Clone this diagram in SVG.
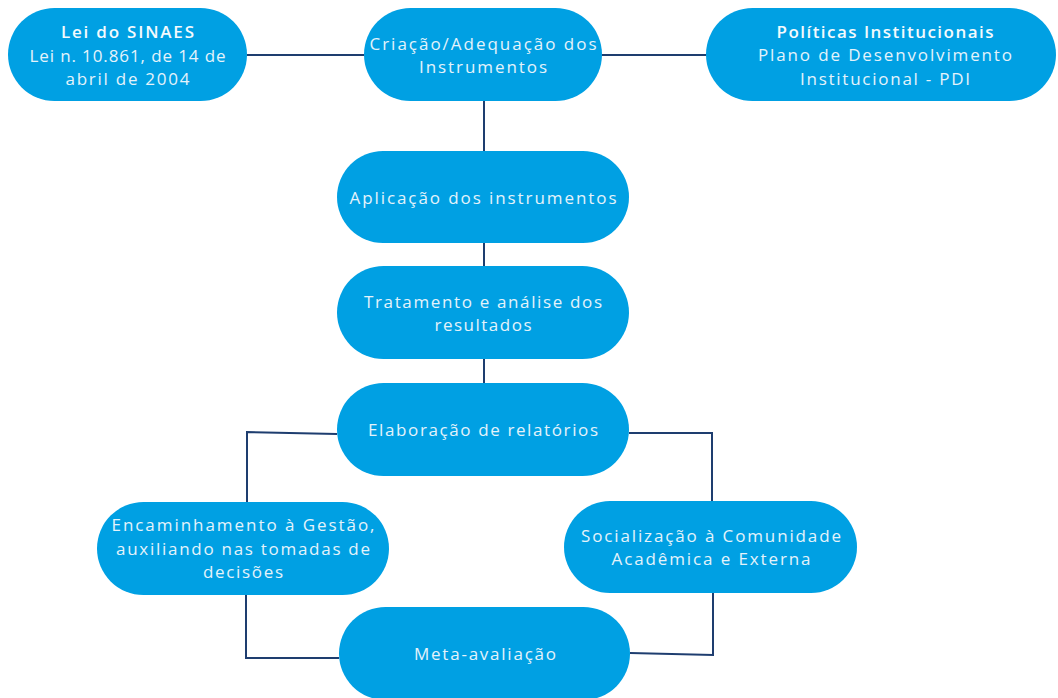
<svg xmlns="http://www.w3.org/2000/svg" width="1058" height="698" viewBox="0 0 1058 698">
  <style>
    .box { fill: #00a0e3; }
    .lbl { font-family: "Open Sans", "Liberation Sans", sans-serif; font-size: 17px; fill: #e4f3fb; text-anchor: middle; dominant-baseline: central; }
    .hd { font-weight: 600; fill: #f4fafd; }
    .wire { fill: none; stroke: #1e3d6f; stroke-width: 2; stroke-linejoin: miter; }
  </style>
  <rect width="1058" height="698" fill="#ffffff"/>

  <!-- connectors -->
  <g id="connectors">
    <line class="wire" x1="247" y1="55" x2="364" y2="55"/>
    <line class="wire" x1="602" y1="55" x2="706" y2="55"/>
    <line class="wire" x1="484" y1="101" x2="484" y2="151"/>
    <line class="wire" x1="484" y1="243" x2="484" y2="266"/>
    <line class="wire" x1="484" y1="359" x2="484" y2="383"/>
    <polyline class="wire" points="337,434 247,432 247,502"/>
    <polyline class="wire" points="629,433 712,433 712,501"/>
    <polyline class="wire" points="246,595 246,658 339,658"/>
    <polyline class="wire" points="713,593 713,655 630,653"/>
  </g>

  <g id="lei-sinaes">
    <rect class="box" x="8" y="8" width="239" height="93" rx="46.5"/>
    <text class="lbl hd" x="127.5" y="31.5" textLength="133" lengthAdjust="spacing">Lei do SINAES</text>
    <text class="lbl" x="127.5" y="55" textLength="196" lengthAdjust="spacing">Lei n. 10.861, de 14 de</text>
    <text class="lbl" x="127.5" y="78" textLength="124" lengthAdjust="spacing">abril de 2004</text>
  </g>

  <g id="criacao">
    <rect class="box" x="364" y="8" width="238" height="93" rx="46.5"/>
    <text class="lbl" x="483" y="43" textLength="227" lengthAdjust="spacing">Criação/Adequação dos</text>
    <text class="lbl" x="483" y="66.5" textLength="128" lengthAdjust="spacing">Instrumentos</text>
  </g>

  <g id="politicas">
    <rect class="box" x="706" y="8" width="350" height="93" rx="46.5"/>
    <text class="lbl hd" x="885" y="31" textLength="217" lengthAdjust="spacing">Políticas Institucionais</text>
    <text class="lbl" x="885" y="54.5" textLength="254" lengthAdjust="spacing">Plano de Desenvolvimento</text>
    <text class="lbl" x="885" y="78" textLength="170" lengthAdjust="spacing">Institucional - PDI</text>
  </g>

  <g id="aplicacao">
    <rect class="box" x="337" y="151" width="292" height="92" rx="46"/>
    <text class="lbl" x="483" y="197" textLength="267" lengthAdjust="spacing">Aplicação dos instrumentos</text>
  </g>

  <g id="tratamento">
    <rect class="box" x="337" y="266" width="292" height="93" rx="46.5"/>
    <text class="lbl" x="483" y="301" textLength="238" lengthAdjust="spacing">Tratamento e análise dos</text>
    <text class="lbl" x="483" y="324" textLength="97" lengthAdjust="spacing">resultados</text>
  </g>

  <g id="elaboracao">
    <rect class="box" x="337" y="383" width="292" height="93" rx="46.5"/>
    <text class="lbl" x="483" y="429" textLength="230" lengthAdjust="spacing">Elaboração de relatórios</text>
  </g>

  <g id="encaminhamento">
    <rect class="box" x="97" y="502" width="292" height="93" rx="46.5"/>
    <text class="lbl" x="243" y="524" textLength="263" lengthAdjust="spacing">Encaminhamento à Gestão,</text>
    <text class="lbl" x="243" y="548" textLength="254" lengthAdjust="spacing">auxiliando nas tomadas de</text>
    <text class="lbl" x="243" y="571" textLength="80" lengthAdjust="spacing">decisões</text>
  </g>

  <g id="socializacao">
    <rect class="box" x="564" y="501" width="293" height="92" rx="46"/>
    <text class="lbl" x="711" y="535" textLength="260" lengthAdjust="spacing">Socialização à Comunidade</text>
    <text class="lbl" x="711" y="558" textLength="199" lengthAdjust="spacing">Acadêmica e Externa</text>
  </g>

  <g id="meta-avaliacao">
    <rect class="box" x="339" y="607" width="291" height="93" rx="46.5"/>
    <text class="lbl" x="485" y="653" textLength="142" lengthAdjust="spacing">Meta-avaliação</text>
  </g>
</svg>
